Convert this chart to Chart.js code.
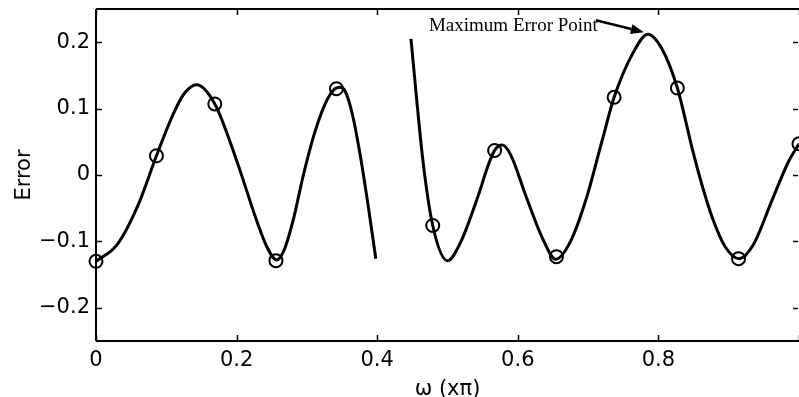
<!DOCTYPE html>
<html>
<head>
<meta charset="utf-8">
<script src="https://cdn.jsdelivr.net/npm/chart.js@4.4.1/dist/chart.umd.min.js"></script>
<style>
  body { margin: 0; background: #fff; }
</style>
</head>
<body>
<canvas id="errChart" width="799" height="397"></canvas>
<script>
// === Fel-kurva (två segment) + extremalpunkter ===

const seg1X = [0, 0.03, 0.06, 0.086, 0.11, 0.125, 0.143, 0.169, 0.2, 0.228, 0.243, 0.257, 0.268, 0.28, 0.295, 0.31, 0.325, 0.338, 0.347, 0.355, 0.365, 0.375, 0.387, 0.398];
const seg1Y = [-0.130, -0.105, -0.045, 0.029, 0.092, 0.122, 0.136, 0.107, 0.022, -0.067, -0.108, -0.128, -0.112, -0.070, 0.000, 0.060, 0.105, 0.128, 0.132, 0.125, 0.090, 0.035, -0.045, -0.126];

const seg2X = [0.448, 0.465, 0.479, 0.500, 0.517, 0.545, 0.557, 0.567, 0.578, 0.590, 0.611, 0.635, 0.654, 0.675, 0.697, 0.720, 0.737, 0.763, 0.785, 0.805, 0.827, 0.838, 0.848, 0.862, 0.877, 0.895, 0.915, 0.935, 0.962, 0.985, 1.0];
const seg2Y = [0.205, 0.022, -0.076, -0.129, -0.105, -0.027, 0.012, 0.037, 0.045, 0.030, -0.030, -0.095, -0.127, -0.100, -0.037, 0.052, 0.117, 0.182, 0.212, 0.190, 0.131, 0.085, 0.040, -0.015, -0.065, -0.108, -0.126, -0.105, -0.037, 0.020, 0.047];

const markX = [0, 0.086, 0.169, 0.256, 0.342, 0.479, 0.567, 0.655, 0.737, 0.827, 0.914, 1.0];
const markY = [-0.130, 0.029, 0.107, -0.129, 0.130, -0.076, 0.037, -0.123, 0.117, 0.131, -0.126, 0.047];

const xTicks = [0, 0.2, 0.4, 0.6, 0.8, 1.0];
const yTicks = [-0.2, -0.1, 0, 0.1, 0.2];

const maxPoint = { x: 0.785, y: 0.212 };
const maxLabel = 'Maximum Error Point';

const toPts = (xs, ys) => xs.map((x, i) => ({ x: x, y: ys[i] }));

const fmt = v => {
  if (Math.abs(v) < 1e-9) return '0';
  const s = Math.abs(v).toFixed(1);
  return v < 0 ? '\u2212' + s : s;
};

// ram, inåtriktade tickar och pil-annotering (MATLAB-stil)
const frameAndNote = {
  id: 'frameAndNote',
  afterDraw(chart) {
    const { ctx, chartArea: a, scales: { x, y } } = chart;
    ctx.save();
    ctx.strokeStyle = '#000';
    ctx.lineWidth = 2;
    ctx.beginPath();
    ctx.moveTo(a.left, a.top); ctx.lineTo(a.right + 2, a.top);
    ctx.moveTo(a.left, a.top); ctx.lineTo(a.left, a.bottom);
    ctx.moveTo(a.left, a.bottom); ctx.lineTo(a.right + 2, a.bottom);
    ctx.stroke();

    ctx.lineWidth = 1.5;
    ctx.beginPath();
    const tl = 6;
    xTicks.forEach(v => {
      const px = Math.round(x.getPixelForValue(v)) + 0.5;
      ctx.moveTo(px, a.bottom); ctx.lineTo(px, a.bottom - tl);
      ctx.moveTo(px, a.top); ctx.lineTo(px, a.top + tl);
    });
    yTicks.forEach(v => {
      const py = Math.round(y.getPixelForValue(v)) + 0.5;
      ctx.moveTo(a.left, py); ctx.lineTo(a.left + tl, py);
      ctx.moveTo(a.right - 1, py); ctx.lineTo(a.right - tl, py);
    });
    ctx.stroke();

    // annotering
    const tipX = x.getPixelForValue(maxPoint.x) - 4;
    const tipY = y.getPixelForValue(maxPoint.y) - 2;
    ctx.font = '19px "Liberation Serif", "Times New Roman", serif';
    ctx.fillStyle = '#000';
    ctx.textBaseline = 'alphabetic';
    ctx.textAlign = 'right';
    const textRight = tipX - 46;
    ctx.fillText(maxLabel, textRight, tipY - 1);

    const sx = textRight - 2, sy = tipY - 12;
    const ang = Math.atan2(tipY - sy, tipX - sx);
    const hl = 13, hw = 5;
    const bx = tipX - hl * Math.cos(ang), by = tipY - hl * Math.sin(ang);
    ctx.lineWidth = 2.5;
    ctx.beginPath();
    ctx.moveTo(sx, sy); ctx.lineTo(bx, by);
    ctx.stroke();
    ctx.beginPath();
    ctx.moveTo(tipX, tipY);
    ctx.lineTo(bx + hw * Math.sin(ang), by - hw * Math.cos(ang));
    ctx.lineTo(bx - hw * Math.sin(ang), by + hw * Math.cos(ang));
    ctx.closePath();
    ctx.fill();
    ctx.restore();
  }
};

const tickFont = { family: '"DejaVu Sans", sans-serif', size: 21 };

const lineStyle = {
  borderColor: '#000',
  borderWidth: 3,
  pointRadius: 0,
  fill: false,
  cubicInterpolationMode: 'monotone',
  showLine: true
};

new Chart(document.getElementById('errChart').getContext('2d'), {
  type: 'line',
  data: {
    datasets: [
      Object.assign({ label: 'seg1', data: toPts(seg1X, seg1Y) }, lineStyle),
      Object.assign({ label: 'seg2', data: toPts(seg2X, seg2Y) }, lineStyle),
      {
        label: 'extremal',
        data: toPts(markX, markY),
        showLine: false,
        pointStyle: 'circle',
        pointRadius: 6.5,
        pointBorderWidth: 2,
        pointBorderColor: '#000',
        pointBackgroundColor: 'rgba(0,0,0,0)',
        clip: false
      }
    ]
  },
  options: {
    responsive: false,
    animation: false,
    layout: { autoPadding: false, padding: { top: 9, right: 0, left: 0, bottom: 0 } },
    plugins: {
      legend: { display: false },
      tooltip: { enabled: false }
    },
    scales: {
      x: {
        type: 'linear',
        min: 0,
        max: 1,
        grid: { display: false, drawTicks: false },
        border: { display: false },
        afterBuildTicks: s => { s.ticks = xTicks.map(v => ({ value: v })); },
        afterFit: s => { s.height = 56; s.paddingLeft = 0; s.paddingRight = 0; },
        ticks: {
          font: tickFont,
          color: '#000',
          padding: 7,
          maxRotation: 0,
          callback: v => (v >= 1 ? '' : fmt(v))
        },
        title: {
          display: true,
          text: 'ω (xπ)',
          font: tickFont,
          color: '#000',
          padding: { top: 0, bottom: -5 }
        }
      },
      y: {
        min: -0.25,
        max: 0.25,
        grid: { display: false, drawTicks: false },
        border: { display: false },
        afterBuildTicks: s => { s.ticks = yTicks.map(v => ({ value: v })); },
        afterFit: s => { s.width = 96; s.paddingTop = 0; s.paddingBottom = 0; },
        ticks: {
          font: tickFont,
          color: '#000',
          padding: 6,
          callback: v => fmt(v)
        },
        title: {
          display: true,
          text: 'Error',
          font: tickFont,
          color: '#000',
          padding: { top: 12, bottom: 0 }
        }
      }
    }
  },
  plugins: [frameAndNote]
});
</script>
</body>
</html>
